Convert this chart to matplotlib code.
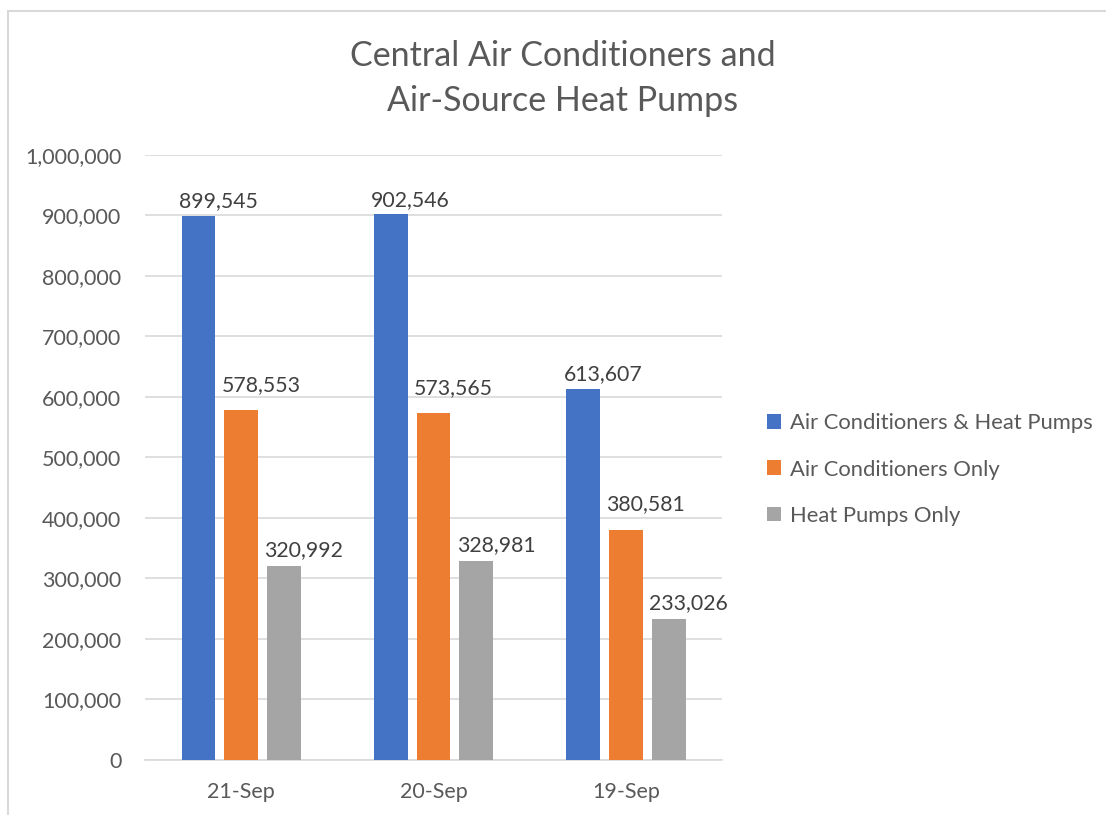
import matplotlib.pyplot as plt
import numpy as np
from matplotlib.patches import Rectangle

categories = ["21-Sep", "20-Sep", "19-Sep"]
series_names = ["Air Conditioners & Heat Pumps", "Air Conditioners Only", "Heat Pumps Only"]
ac_hp = [899545, 902546, 613607]
ac_only = [578553, 573565, 380581]
hp_only = [320992, 328981, 233026]
colors = ["#4472C4", "#ED7D31", "#A5A5A5"]
label_lift = [3, 11, 4]  # points above the bar top, per series

plt.rcParams['font.family'] = ['Lato', 'DejaVu Sans']
text_col = "#595959"

fig = plt.figure(figsize=(11.06, 8.15), dpi=100)
ax = fig.add_axes([0.131, 0.0675, 0.522, 0.7425])

# chart border (only top and left edges visible in the reference)
fig.patches.append(Rectangle((8/1106, -0.1), 1.2, 1 - 11/815 + 0.1, transform=fig.transFigure,
                             fill=False, edgecolor="#d9d9d9", linewidth=1.5))

x = np.arange(len(categories))
width = 0.175
offset = 0.222
for i, (vals, name) in enumerate(zip([ac_hp, ac_only, hp_only], series_names)):
    pos = x + (i - 1) * offset
    bars = ax.bar(pos, vals, width, color=colors[i], label=name, zorder=3)
    for b, v in zip(bars, vals):
        ax.annotate(f"{v:,}", (b.get_x(), v), xytext=(-2, label_lift[i]),
                    textcoords="offset points", ha="left", va="bottom",
                    fontsize=15.3, color="#404040")

ax.set_xlim(-0.5, 2.5)
ax.set_ylim(0, 1000000)
ax.set_yticks(np.arange(0, 1000001, 100000))
ax.set_yticklabels([f"{int(t):,}" for t in ax.get_yticks()])
ax.set_xticks(x)
ax.set_xticklabels(categories)
ax.tick_params(axis="both", length=0, labelsize=15.5, colors=text_col)
ax.tick_params(axis="y", pad=17)
ax.tick_params(axis="x", pad=16)
ax.grid(axis="y", color="#d9d9d9", linewidth=1.2, zorder=0)
for s in ["top", "right", "left"]:
    ax.spines[s].set_visible(False)
ax.spines["bottom"].set_color("#d9d9d9")
ax.spines["bottom"].set_linewidth(1.2)

fig.text(0.509, 0.904, "Central Air Conditioners and\nAir-Source Heat Pumps", ha="center", va="center",
         fontsize=24.5, color=text_col, linespacing=1.5)

ax.legend(loc="center left", bbox_to_anchor=(1.043, 0.48), frameon=False, fontsize=15.8,
          labelcolor=text_col, handlelength=0.65, handleheight=0.65, handletextpad=0.4,
          labelspacing=1.2)

fig.savefig("out.png", dpi=100)
